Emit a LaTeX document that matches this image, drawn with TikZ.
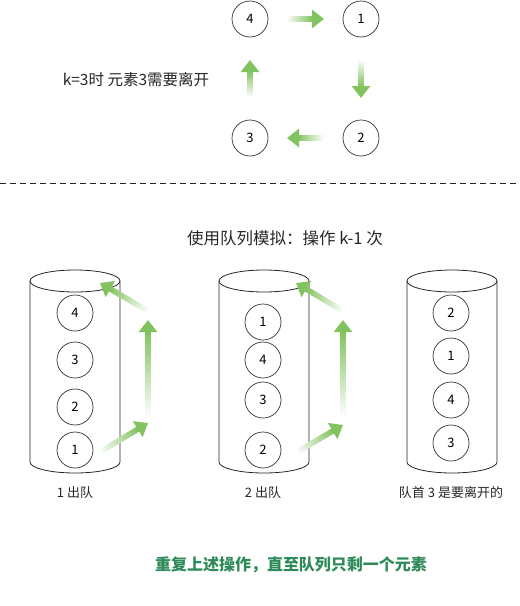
\documentclass[tikz,border=0pt]{standalone}
\usepackage{fontspec}
\setmainfont{Noto Sans CJK SC}
\usepackage{tikz}
\usetikzlibrary{calc,arrows.meta}

\definecolor{arrgreen}{RGB}{130,195,95}
\definecolor{textgreen}{RGB}{46,139,87}

% Pfeil mit Verlauf: hell am Anfang, kraeftig an der Spitze
\newcommand\fadearrow[2]{%
	\coordinate (fe) at ($(#2)!11pt!(#1)$);
	\foreach \i in {0,...,19}{
		\pgfmathtruncatemacro\mix{4+\i*5}
		\draw[line width=5.5pt, arrgreen!\mix!white] ($(#1)!\i/20!(fe)$) -- ($(#1)!\i/20+0.06!(fe)$);
	}
	\draw[arrgreen, line width=5.5pt, -{Triangle[width=18pt,length=12pt]}] (fe) -- (#2);
}
% Zylinder (Warteschlange) um x-Mitte #1
\newcommand\tube[1]{%
	\draw[tubeline] (#1,281) ellipse (45 and 11);
	\draw[tubeline] (#1-45,281) -- (#1-45,462) arc (180:0:45 and 11) -- (#1+45,281);
}

\begin{document}
\begin{tikzpicture}[x=1pt,y=-1pt,
		ball/.style={circle, draw=black!80, line width=0.7pt, minimum size=36pt, inner sep=0pt, font=\fontsize{13}{13}\selectfont},
		tubeline/.style={draw=black!85, line width=0.8pt},
		txt/.style={font=\fontsize{15.5}{15.5}\selectfont, text=black!85},
		lbl/.style={font=\fontsize{13}{13}\selectfont, text=black!85}]
	\useasboundingbox (0,0) rectangle (520,606);
	% oben: Kreis
	\node[ball] (t4) at (250,19) {4};
	\node[ball] (t1) at (361,19) {1};
	\node[ball] (t3) at (250,138) {3};
	\node[ball] (t2) at (361,138) {2};
	\coordinate (a41s) at (287,19); \coordinate (a41e) at (324,19);
	\coordinate (a12s) at (361,60); \coordinate (a12e) at (361,98);
	\coordinate (a23s) at (324,138); \coordinate (a23e) at (287,138);
	\coordinate (a34s) at (250,97); \coordinate (a34e) at (250,60);
	\fadearrow{a41s}{a41e}
	\fadearrow{a12s}{a12e}
	\fadearrow{a23s}{a23e}
	\fadearrow{a34s}{a34e}
	\node[txt] (klabel) at (136,80) {k=3时 元素3需要离开};
	\draw[black!85, line width=0.8pt, dash pattern=on 6pt off 4pt] (0,183) -- (520,183);
	\node[txt, font=\fontsize{16.5}{16.5}\selectfont] (title) at (285,238) {使用队列模拟：操作 k-1 次};
	% unten: drei Warteschlangen
	\tube{75}
	\tube{264}
	\tube{452}
	\node[ball] (q4) at (75,313) {4};
	\node[ball] (q3) at (75,360) {3};
	\node[ball] (q2) at (75,407) {2};
	\node[ball] (q1) at (75,450) {1};
	\node[ball] (r1) at (263,322) {1};
	\node[ball] (r4) at (263,360) {4};
	\node[ball] (r3) at (263,400) {3};
	\node[ball] (r2) at (263,450) {2};
	\node[ball] (s2) at (451,313) {2};
	\node[ball] (s1) at (451,356) {1};
	\node[ball] (s4) at (451,400) {4};
	\node[ball] (s3) at (451,443) {3};
	\coordinate (p1) at (100,452); \coordinate (p2) at (148,423);
	\coordinate (p3) at (148,417); \coordinate (p4) at (148,320);
	\coordinate (p5) at (148,311); \coordinate (p6) at (100,283);
	\fadearrow{p1}{p2}
	\fadearrow{p3}{p4}
	\fadearrow{p5}{p6}
	\coordinate (m1) at (297,452); \coordinate (m2) at (343,425);
	\coordinate (m3) at (343,417); \coordinate (m4) at (343,320);
	\coordinate (m5) at (343,311); \coordinate (m6) at (296,283);
	\fadearrow{m1}{m2}
	\fadearrow{m3}{m4}
	\fadearrow{m5}{m6}
	\node[lbl] (l1) at (75,493) {1 出队};
	\node[lbl] (l2) at (263,493) {2 出队};
	\node[lbl] (l3) at (451,493) {队首 3 是要离开的};
	\node[font=\fontsize{16}{16}\selectfont\bfseries, text=textgreen] (summary) at (291,565) {重复上述操作，直至队列只剩一个元素};
\end{tikzpicture}
\end{document}
